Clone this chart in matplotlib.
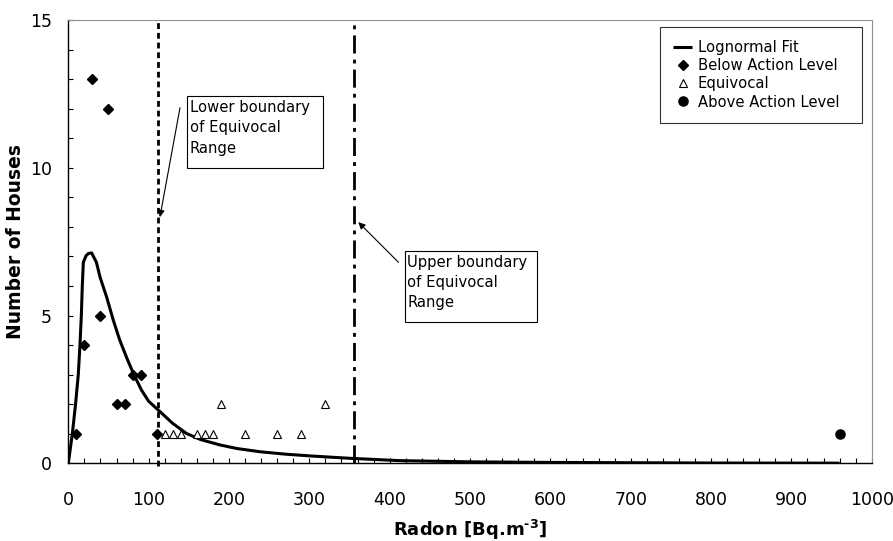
import matplotlib
matplotlib.use("Agg")
import matplotlib.pyplot as plt
from matplotlib.ticker import MultipleLocator
from matplotlib.patches import Rectangle

plt.rcParams['font.family'] = ['DejaVu Sans']
plt.rcParams['mathtext.fontset'] = 'dejavusans'

# Lognormal fit curve
fit_x = [0, 5, 9, 12.4, 14.5, 16.2, 17.4, 18.7, 22, 25, 29, 35, 39.5, 48, 56, 64, 73, 81, 91,
         100, 112, 130, 147, 165, 189, 210, 239, 270, 301, 350, 413, 500, 600, 700, 800, 960]
fit_y = [0, 1, 2, 3, 4, 5, 6, 6.8, 7.02, 7.1, 7.12, 6.8, 6.3, 5.6, 4.84, 4.17, 3.55, 3.04, 2.48,
         2.1, 1.8, 1.35, 1.01, 0.8, 0.62, 0.5, 0.39, 0.31, 0.25, 0.17, 0.09, 0.05, 0.03, 0.02, 0.01, 0.005]

below_x = [10, 20, 30, 40, 50, 60, 70, 80, 90, 110]
below_y = [1, 4, 13, 5, 12, 2, 2, 3, 3, 1]

equiv_x = [120, 130, 140, 160, 170, 180, 190, 220, 260, 290, 320]
equiv_y = [1, 1, 1, 1, 1, 1, 2, 1, 1, 1, 2]

above_x = [960]
above_y = [1]

lower_boundary = 112
upper_boundary = 356

fig = plt.figure(figsize=(8.93, 5.41), dpi=100)
ax = fig.add_axes([0.0765, 0.1436, 0.8997, 0.8194])

ax.plot(fit_x, fit_y, color='black', lw=2.2, label='Lognormal Fit', solid_capstyle='butt',
        solid_joinstyle='round')
ax.plot(below_x, below_y, ls='none', marker='D', ms=4.6, color='black', label='Below Action Level')
ax.plot(equiv_x, equiv_y, ls='none', marker='^', ms=6.2, mfc='white', mec='black', mew=0.8,
        label='Equivocal')
ax.plot(above_x, above_y, ls='none', marker='o', ms=6.6, color='black', label='Above Action Level')

ax.plot([lower_boundary, lower_boundary], [-0.1, 15], color='black', lw=2,
        ls=(0, (2.1, 1.4)), dash_capstyle='butt', clip_on=False)
ax.plot([upper_boundary, upper_boundary], [0, 15], color='black', lw=2,
        ls=(0, (6.5, 2.2, 1.4, 2.2)), dash_capstyle='butt')

ax.set_xlim(0, 1000)
ax.set_ylim(0, 15)
ax.xaxis.set_major_locator(MultipleLocator(100))
ax.xaxis.set_minor_locator(MultipleLocator(20))
ax.yaxis.set_major_locator(MultipleLocator(5))
ax.yaxis.set_minor_locator(MultipleLocator(1))
ax.tick_params(axis='both', which='both', direction='in', length=3.8, width=0.8, labelsize=12.5)
ax.tick_params(axis='x', which='both', pad=20)
ax.tick_params(axis='y', which='both', pad=12)

for s in ['top', 'right']:
    ax.spines[s].set_color('#909090')
    ax.spines[s].set_linewidth(0.8)
for s in ['left', 'bottom']:
    ax.spines[s].set_color('black')
    ax.spines[s].set_linewidth(1.0)

xl = ax.set_xlabel('Radon [Bq.m$^{\\mathbf{\u20103}}$]', fontsize=13, fontweight='bold')
ax.xaxis.set_label_coords(0.5, -0.1633)
xl.set_verticalalignment('baseline')
ax.set_ylabel('Number of Houses', fontsize=13.5, fontweight='bold')
ax.yaxis.set_label_coords(-0.054, 0.5)

leg = ax.legend(loc='upper left', bbox_to_anchor=(0.7365, 0.761, 0.251, 0.224), mode='expand',
                borderaxespad=0, fontsize=10.6, frameon=True, fancybox=False, edgecolor='black',
                handlelength=1.3, labelspacing=0.22, handletextpad=0.35, borderpad=0.9)
leg.get_frame().set_linewidth(0.8)

# annotation boxes (axes-fraction layout)
for (x0, x1, y0, y1, txt) in [
        (0.1481, 0.3167, 0.6655, 0.8286, 'Lower boundary\nof Equivocal\nRange'),
        (0.4187, 0.5838, 0.3194, 0.4796, 'Upper boundary\nof Equivocal\nRange')]:
    ax.add_patch(Rectangle((x0, y0), x1 - x0, y1 - y0, transform=ax.transAxes,
                           fc='white', ec='black', lw=0.8, zorder=4))
    ax.text(x0 + 0.003, y1 - 0.009, txt, transform=ax.transAxes, ha='left', va='top',
            fontsize=10.6, linespacing=1.45, zorder=5)

arr = dict(arrowstyle='-|>', lw=0.8, color='black', mutation_scale=10, shrinkA=0, shrinkB=0)
ax.annotate('', xy=(114, 8.33), xytext=(139, 12.03), arrowprops=arr)
ax.annotate('', xy=(361, 8.16), xytext=(411, 6.8), arrowprops=arr)

fig.savefig('out.png', dpi=100)
